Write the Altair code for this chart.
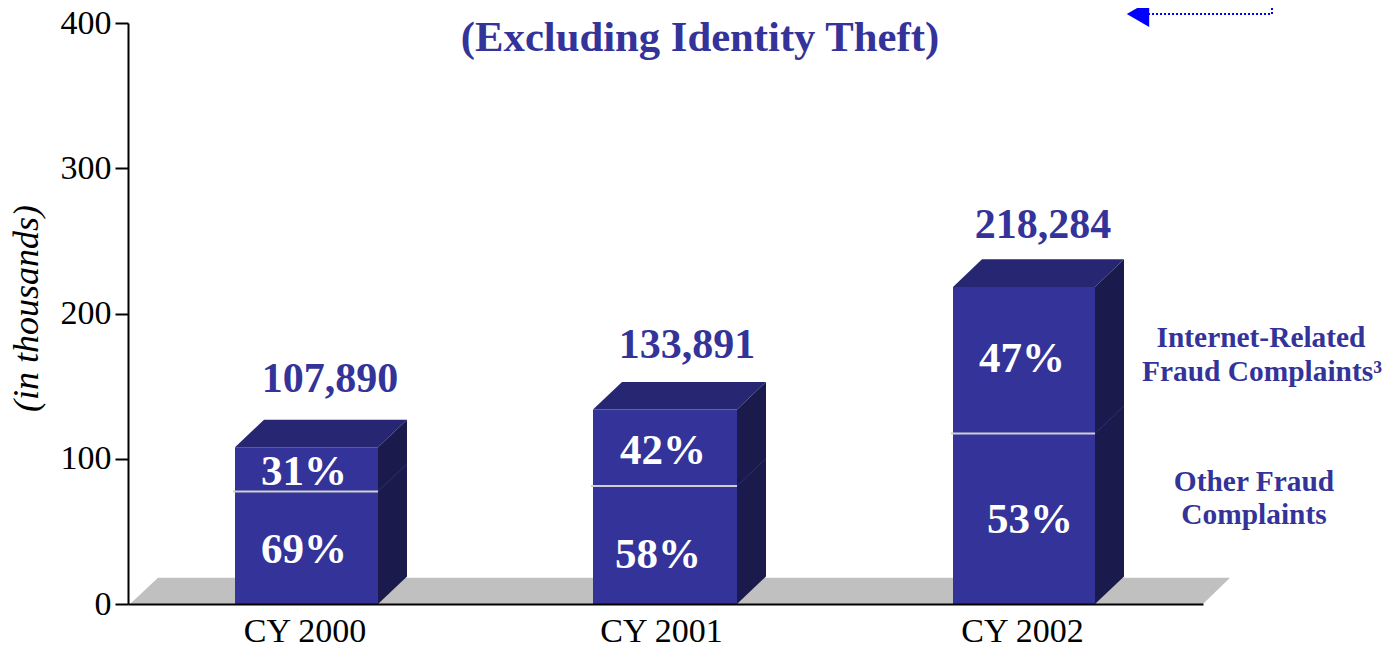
import altair as alt
import pandas as pd

# data (x positions in plot units, y values in thousands)
years = ["CY 2000", "CY 2001", "CY 2002"]
totals = [107.890, 133.891, 218.284]
total_labels = ["107,890", "133,891", "218,284"]
dividers = [77.5, 81.2, 117.4]
bar_left = [107, 465, 825]
bar_right = [250, 609, 967]
year_pos = [176.5, 533, 894]
total_x = [202, 559, 915]
total_y = [155, 178, 261]
pct_labels = ["31%", "69%", "42%", "58%", "47%", "53%"]
pct_x = [176, 176, 535, 530, 894, 902]
pct_y = [91, 37, 105, 34, 169, 58]
legend_labels = ["Internet-Related", "Fraud Complaints³", "Other Fraud", "Complaints"]
legend_x = [1133, 1134, 1126, 1126]
legend_y = [183, 160, 84, 61]
title_text = ["(Excluding Identity Theft)"]
title_x = [572]
title_y = [390]
floor_x = [2, 30, 1075, 1102]
floor_top = [0, 18, 18, 18]
floor_bottom = [0, 0, 0, 18]
arrow_x = [1010]
arrow_y = [406.2]
dotted_x = [1020, 1144, 1144]
dotted_y = [406.2, 406.2, 410.4]
dx = 29
dy = 19

FONT = "Liberation Serif"
NAVY = "#333399"

label_expr = " : ".join(
    f"datum.value == {p} ? '{y}'" for p, y in zip(year_pos, years)
) + " : ''"

x_scale = alt.Scale(domain=[0, 1075], nice=False, zero=False)
y_scale = alt.Scale(domain=[0, 400], nice=False)
x_axis = alt.Axis(
    values=year_pos, labelExpr=label_expr, title=None, ticks=False, grid=False,
    domainColor="black", domainWidth=2, labelFont=FONT, labelFontSize=34,
    labelColor="black", labelPadding=27, labelBaseline="middle", zindex=1,
    labelOverlap=False, labelFontWeight="normal",
)
y_axis = alt.Axis(
    values=[0, 100, 200, 300, 400], title="(in thousands)", grid=False,
    domainColor="black", domainWidth=2, tickColor="black", tickWidth=2, tickSize=13,
    labelFont=FONT, labelFontSize=34, labelColor="black", labelPadding=4,
    titleFont=FONT, titleFontSize=36, titleFontStyle="italic", titleFontWeight="normal",
    titleColor="black", titleX=-83, titleY=285, titleAngle=270, zindex=1,
)
x_plain = alt.X("x:Q", scale=x_scale, axis=x_axis)
y_plain = alt.Y("y:Q", scale=y_scale, axis=y_axis)
y2_plain = alt.Y2("y2:Q")

floor_df = pd.DataFrame({"x": floor_x, "y": floor_top, "y2": floor_bottom})
floor = alt.Chart(floor_df).mark_area(color="#c0c0c0").encode(
    x=x_plain, y=y_plain, y2=y2_plain,
)

side_rows, top_rows, edge_rows = [], [], []
for i, (l, r, v, d) in enumerate(zip(bar_left, bar_right, totals, dividers)):
    side_rows += [
        {"b": i, "x": r, "y": v, "y2": 0},
        {"b": i, "x": r + dx, "y": v + dy, "y2": dy},
    ]
    top_rows += [
        {"b": i, "x": l, "y": v, "y2": v},
        {"b": i, "x": l + dx, "y": v + dy, "y2": v},
        {"b": i, "x": r, "y": v + dy, "y2": v},
        {"b": i, "x": r + dx, "y": v + dy, "y2": v + dy},
    ]
    edge_rows += [
        {"b": i, "x": r, "y": d},
        {"b": i, "x": r + dx, "y": d + dy},
    ]

sides = alt.Chart(pd.DataFrame(side_rows)).mark_area(color="#1a1a4d").encode(
    x=x_plain, y=y_plain, y2=y2_plain, detail="b:N")
tops = alt.Chart(pd.DataFrame(top_rows)).mark_area(color="#262673").encode(
    x=x_plain, y=y_plain, y2=y2_plain, detail="b:N")
edges = alt.Chart(pd.DataFrame(edge_rows)).mark_line(color="#2e2e78", strokeWidth=1).encode(
    x=x_plain, y=y_plain, detail="b:N")

fronts = alt.Chart(pd.DataFrame({
    "x": bar_left, "x2": bar_right, "y": totals, "y2": [0, 0, 0]
})).mark_bar(color=NAVY).encode(x=x_plain, x2="x2:Q", y=y_plain, y2=y2_plain)

divider_rules = alt.Chart(pd.DataFrame({
    "x": [v - 2 for v in bar_left], "x2": bar_right, "y": dividers
})).mark_rule(color="#d0d0d0", strokeWidth=2).encode(x=x_plain, x2="x2:Q", y=y_plain)


def text_layer(xs, ys, labels, size, color, **kw):
    df = pd.DataFrame({"x": xs, "y": ys, "t": labels})
    return alt.Chart(df).mark_text(
        font=FONT, fontSize=size, color=color, baseline="middle", align="center", **kw
    ).encode(x=x_plain, y=y_plain, text="t:N")


pct_text = text_layer(pct_x, pct_y, pct_labels, 43, "white", fontWeight="bold")
total_text = text_layer(total_x, total_y, total_labels, 42, NAVY, fontWeight="bold")
legend_text = text_layer(legend_x, legend_y, legend_labels, 29.4, NAVY, fontWeight="bold")
title = text_layer(title_x, title_y, title_text, 42.7, NAVY, fontWeight="bold")

dotted = alt.Chart(pd.DataFrame({
    "x": dotted_x, "y": dotted_y, "o": list(range(len(dotted_x)))
})).mark_line(color="#0000ff", strokeWidth=2, strokeDash=[2, 2]).encode(
    x=x_plain, y=y_plain, order="o:Q")
arrow = alt.Chart(pd.DataFrame({"x": arrow_x, "y": arrow_y})).mark_point(
    shape="triangle-left", filled=True, color="#0000ff", opacity=1, size=670
).encode(x=x_plain, y=y_plain)

chart = alt.layer(
    floor, sides, tops, edges, fronts, divider_rules,
    pct_text, total_text, legend_text, title, dotted, arrow,
).properties(
    width=1075, height=581,
    autosize=alt.AutoSizeParams(type="none"),
    padding={"left": 120, "top": 15, "right": 180, "bottom": 45},
).configure_view(stroke=None)

chart.save("out.html", embed_options={"renderer": "svg", "actions": False})
